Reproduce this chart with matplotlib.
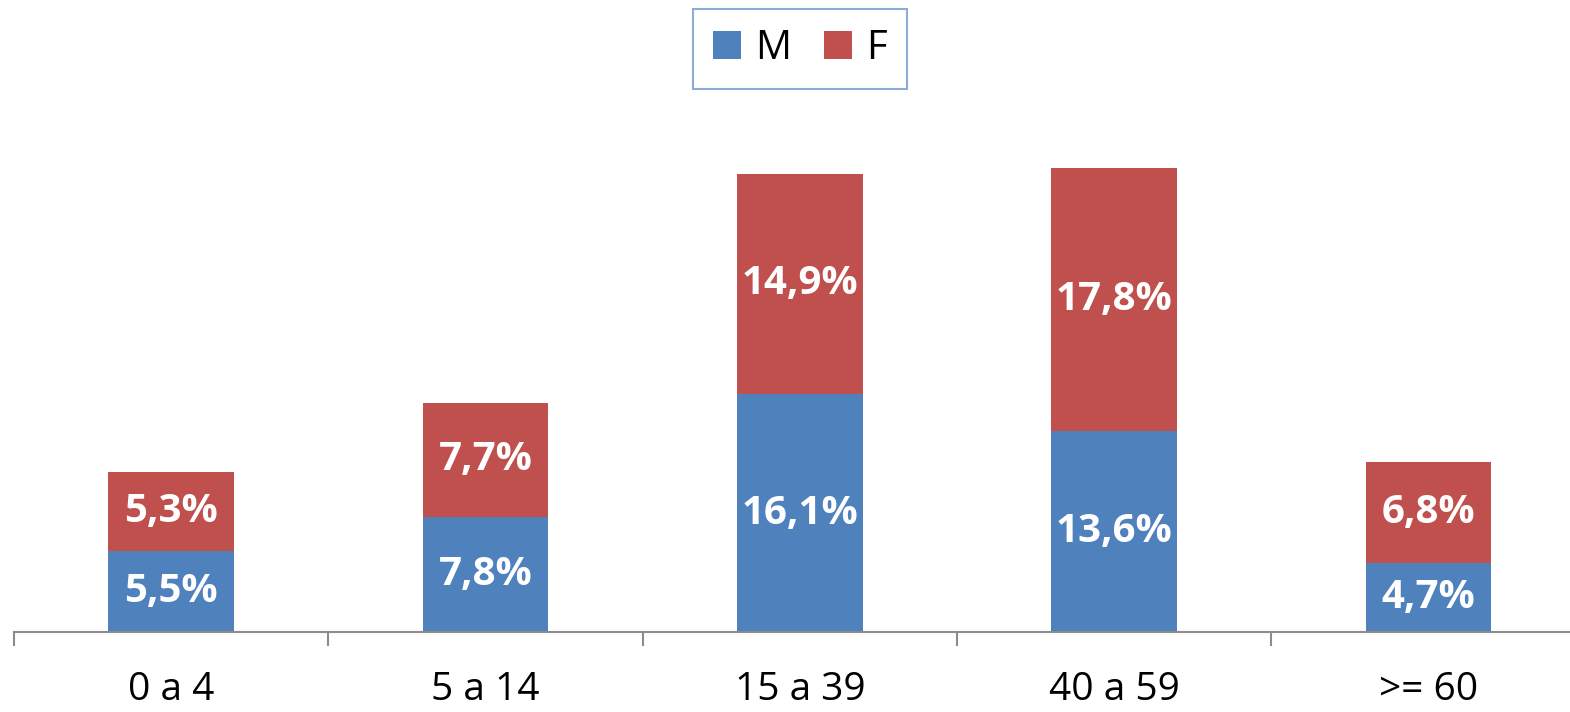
import matplotlib
matplotlib.use("Agg")
import matplotlib.pyplot as plt
import numpy as np

# ================================================< DATA >==============================================================

CATEGORIES = ["0 a 4", "5 a 14", "15 a 39", "40 a 59", ">= 60"]
MALE = [5.5, 7.8, 16.1, 13.6, 4.7]
FEMALE = [5.3, 7.7, 14.9, 17.8, 6.8]
SERIES_NAMES = ["M", "F"]

BLUE = "#4F81BD"
RED = "#C0504D"

# ================================================< PLOT >==============================================================

plt.rcParams["font.family"] = ["Open Sans", "DejaVu Sans"]

fig = plt.figure(figsize=(15.7, 7.12), dpi=100)
ax = fig.add_axes([14 / 1570, 80 / 712, 1556 / 1570, 532 / 712])

x = np.arange(len(CATEGORIES))
male = np.array(MALE)
female = np.array(FEMALE)

b1 = ax.bar(x, male, width=0.4, color=BLUE, label=SERIES_NAMES[0])
b2 = ax.bar(x, female, width=0.4, bottom=male, color=RED, label=SERIES_NAMES[1])

for bars, vals in ((b1, male), (b2, female)):
    for rect, v in zip(bars, vals):
        ax.text(rect.get_x() + rect.get_width() / 2, rect.get_y() + rect.get_height() / 2,
                f"{v:.1f}%".replace(".", ","), ha="center", va="center",
                color="white", fontsize=29, fontweight="bold")

ax.set_xlim(-0.5, 4.45)
ax.set_ylim(0, 36)

for s in ["top", "right", "left"]:
    ax.spines[s].set_visible(False)
ax.spines["bottom"].set_color("#8C8C8C")
ax.spines["bottom"].set_linewidth(1.5)

ax.set_yticks([])
ax.set_xticks(x)
ax.set_xticklabels(CATEGORIES, fontsize=28)
ax.tick_params(axis="x", which="major", length=0, pad=28)
ax.set_xticks(np.arange(-0.5, 4.5, 1.0), minor=True)
ax.tick_params(axis="x", which="minor", length=10, width=1.5, color="#8C8C8C", direction="out")

leg = fig.legend(handles=[b1, b2], loc="center", bbox_to_anchor=(800 / 1570, 1 - 49 / 712),
                 ncol=2, fontsize=29, frameon=True, fancybox=False,
                 handlelength=0.7, handleheight=0.7, handletextpad=0.35, columnspacing=0.8,
                 borderpad=0.5)
leg.get_frame().set_edgecolor("#6F96CC")
leg.get_frame().set_linewidth(1.5)

plt.savefig("out.png", dpi=100)
